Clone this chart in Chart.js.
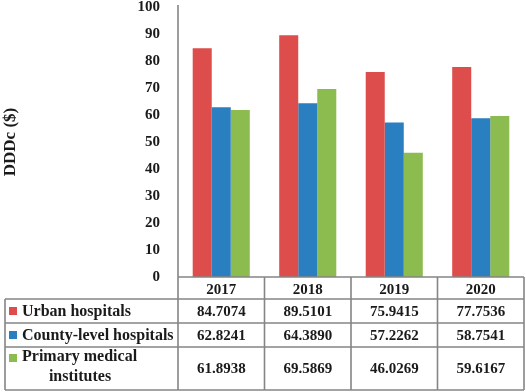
<!DOCTYPE html>
<html lang="en">
<head>
    <meta charset="UTF-8">
    <title>DDDc by hospital level</title>
    <script src="https://cdn.jsdelivr.net/npm/chart.js"></script>
    <style>
        html, body { margin: 0; padding: 0; background: #fff; }
        #wrap { width: 526px; height: 392px; position: relative; }
    </style>
</head>
<body>
    <div id="wrap"><canvas id="dddcChart" width="526" height="392"></canvas></div>

    <script>
        const years = ['2017', '2018', '2019', '2020'];
        const seriesNames = ['Urban hospitals', 'County-level hospitals', 'Primary medical institutes'];
        const urban = [84.7074, 89.5101, 75.9415, 77.7536];
        const county = [62.8241, 64.3890, 57.2262, 58.7541];
        const primary = [61.8938, 69.5869, 46.0269, 59.6167];
        const valueLabels = [
            ['84.7074', '89.5101', '75.9415', '77.7536'],
            ['62.8241', '64.3890', '57.2262', '58.7541'],
            ['61.8938', '69.5869', '46.0269', '59.6167']
        ];
        const colors = ['#dd4d4b', '#2a7fc1', '#8cbb4f'];

        const serif = '"Liberation Serif", "Times New Roman", serif';
        const lineColor = '#858585';

        // data table drawn under the plot
        const tablePlugin = {
            id: 'dataTable',
            afterDraw(chart) {
                const ctx = chart.ctx;
                const area = chart.chartArea;
                const x = chart.scales.x;
                const colW = (area.right - area.left) / years.length;
                const headTop = area.bottom;
                const headBottom = 299;
                const rows = [299, 323, 347, 390];
                const leftEdge = 5;

                ctx.save();
                ctx.strokeStyle = lineColor;
                ctx.lineWidth = 1.6;
                ctx.beginPath();
                // header row
                ctx.moveTo(area.left, headTop); ctx.lineTo(area.right, headTop);
                ctx.moveTo(leftEdge, headBottom); ctx.lineTo(area.right, headBottom);
                rows.slice(1).forEach(y => { ctx.moveTo(leftEdge, y); ctx.lineTo(area.right, y); });
                // verticals
                ctx.moveTo(leftEdge, headBottom); ctx.lineTo(leftEdge, rows[3]);
                for (let i = 0; i <= years.length; i++) {
                    const cx = area.left + i * colW;
                    ctx.moveTo(cx, i === 0 ? 5 : headTop); ctx.lineTo(cx, rows[3]);
                }
                ctx.stroke();

                ctx.fillStyle = '#1a1a1a';
                ctx.textBaseline = 'middle';
                for (let r = 0; r < 3; r++) {
                    const top = rows[r], bot = rows[r + 1];
                    const mid = (top + bot) / 2;
                    // legend key
                    ctx.fillStyle = colors[r];
                    const keyY = r === 2 ? top + 7 : mid - 4;
                    ctx.fillRect(9, keyY, 8, 8);
                    ctx.fillStyle = '#1a1a1a';
                    ctx.font = 'bold 16px ' + serif;
                    ctx.textAlign = 'left';
                    if (r === 2) {
                        ctx.fillText('Primary medical', 22, top + 10);
                        ctx.textAlign = 'center';
                        ctx.fillText('institutes', 80, top + 30);
                    } else {
                        ctx.fillText(seriesNames[r], 22, mid + 1);
                    }
                    ctx.font = 'bold 15px ' + serif;
                    ctx.textAlign = 'center';
                    for (let i = 0; i < years.length; i++) {
                        ctx.fillText(valueLabels[r][i], x.getPixelForTick(i), mid + 1);
                    }
                }
                ctx.restore();
            }
        };

        const ctx = document.getElementById('dddcChart').getContext('2d');
        new Chart(ctx, {
            type: 'bar',
            data: {
                labels: years,
                datasets: [
                    { label: seriesNames[0], data: urban, backgroundColor: colors[0] },
                    { label: seriesNames[1], data: county, backgroundColor: colors[1] },
                    { label: seriesNames[2], data: primary, backgroundColor: colors[2] }
                ]
            },
            options: {
                responsive: false,
                animation: false,
                devicePixelRatio: 1,
                layout: { padding: { top: 7, right: 2, bottom: 93, left: 0 } },
                datasets: { bar: { categoryPercentage: 0.66, barPercentage: 1.0 } },
                plugins: {
                    legend: { display: false },
                    tooltip: { enabled: false }
                },
                scales: {
                    x: {
                        grid: { display: false, drawTicks: false },
                        border: { display: false },
                        ticks: { font: { family: serif, size: 15, weight: 'bold' }, color: '#1a1a1a', padding: 4 },
                        afterFit(scale) { scale.height = 22; scale.paddingLeft = 0; scale.paddingRight = 0; }
                    },
                    y: {
                        min: 0, max: 100,
                        grid: { display: false, drawTicks: false },
                        border: { display: false },
                        ticks: { stepSize: 10, font: { family: serif, size: 15, weight: 'bold' }, color: '#1a1a1a', padding: 18 },
                        title: { display: true, text: 'DDDc ($)', font: { family: serif, size: 17, weight: 'bold' }, color: '#1a1a1a', padding: 0 },
                        afterFit(scale) { scale.width = 178; scale.paddingTop = 0; scale.paddingBottom = 0; }
                    }
                }
            },
            plugins: [tablePlugin]
        });
    </script>
</body>
</html>
